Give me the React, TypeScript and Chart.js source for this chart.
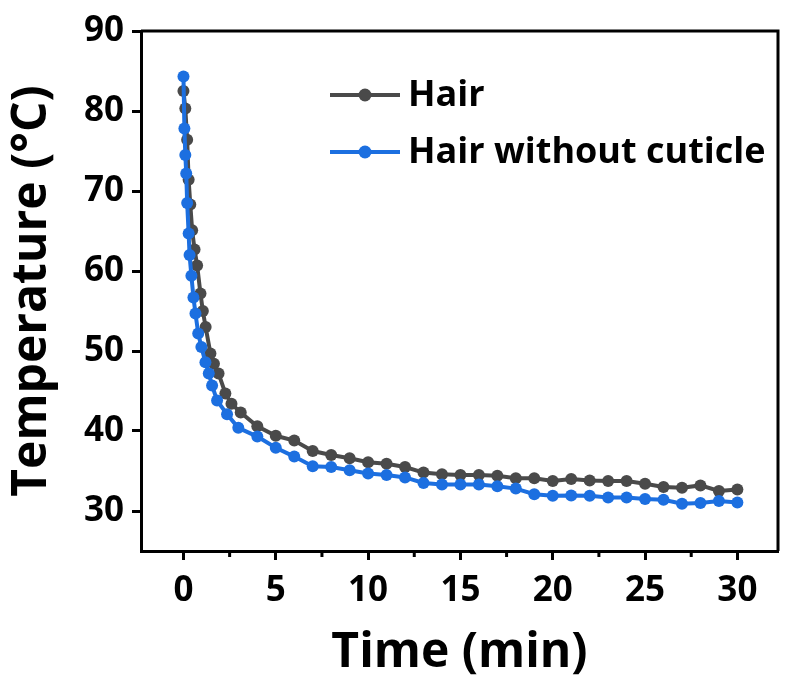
import React, { useEffect, useRef } from "react";
import { Chart, registerables } from "chart.js";

Chart.register(...registerables);

// ---- data ----
const seriesNames = ["Hair", "Hair without cuticle"];
const seriesColors = ["#4a4a4a", "#1c6fe0"];

const hairTime = [
  0, 0.1, 0.2, 0.28, 0.37, 0.47, 0.6, 0.74, 0.92, 1.05, 1.2, 1.46, 1.65, 1.9, 2.27, 2.6, 3.1,
  4, 5, 6, 7, 8, 9, 10, 11, 12, 13, 14, 15, 16, 17, 18, 19, 20, 21, 22, 23, 24, 25, 26, 27, 28, 29, 30,
];
const hairTemp = [
  82.5, 80.3, 76.4, 71.4, 68.3, 65.1, 62.7, 60.7, 57.2, 55.0, 53.0, 49.7, 48.4, 47.2, 44.7, 43.4, 42.3,
  40.6, 39.4, 38.8, 37.5, 37.0, 36.6, 36.1, 35.9, 35.5, 34.8, 34.6, 34.5, 34.5, 34.4, 34.1, 34.1, 33.75,
  34.0, 33.8, 33.75, 33.75, 33.4, 33.0, 32.9, 33.2, 32.5, 32.7,
];

const noCuticleTime = [
  0, 0.05, 0.1, 0.15, 0.2, 0.28, 0.33, 0.43, 0.54, 0.65, 0.8, 0.97, 1.19, 1.37, 1.55, 1.82, 2.36, 2.97,
  4, 5, 6, 7, 8, 9, 10, 11, 12, 13, 14, 15, 16, 17, 18, 19, 20, 21, 22, 23, 24, 25, 26, 27, 28, 29, 30,
];
const noCuticleTemp = [
  84.3, 77.8, 74.5, 72.2, 68.5, 64.7, 62.0, 59.4, 56.7, 54.7, 52.2, 50.5, 48.6, 47.2, 45.7, 43.8, 42.1, 40.4,
  39.3, 37.9, 36.8, 35.6, 35.5, 35.1, 34.7, 34.5, 34.2, 33.5, 33.3, 33.3, 33.3, 33.1, 32.8, 32.1, 31.9,
  31.95, 31.9, 31.7, 31.7, 31.5, 31.4, 30.9, 31.0, 31.25, 31.05,
];

const xTicks = [0, 5, 10, 15, 20, 25, 30];
const xMinorTicks = [2.5, 7.5, 12.5, 17.5, 22.5, 27.5];
const yTicks = [30, 40, 50, 60, 70, 80, 90];
const xTitle = "Time (min)";
const yTitle = "Temperature (°C)";

const FONT = "'Open Sans', 'DejaVu Sans', sans-serif";

const framePlugin = {
  id: "frameAndLegend",
  afterDraw(chart: any) {
    const { ctx, chartArea, scales } = chart;
    ctx.save();
    // top & right frame lines
    ctx.strokeStyle = "#000";
    ctx.lineWidth = 3;
    ctx.beginPath();
    ctx.moveTo(chartArea.left, chartArea.top);
    ctx.lineTo(chartArea.right, chartArea.top);
    ctx.lineTo(chartArea.right, chartArea.bottom);
    ctx.stroke();
    // minor x ticks
    for (const v of xMinorTicks) {
      const px = scales.x.getPixelForValue(v);
      ctx.beginPath();
      ctx.moveTo(px, chartArea.bottom);
      ctx.lineTo(px, chartArea.bottom + 6);
      ctx.stroke();
    }
    // legend
    const order = [0, 1];
    const lx0 = 330;
    const lx1 = 400;
    const ly = [95, 152];
    ctx.font = `bold 36px ${FONT}`;
    ctx.textBaseline = "middle";
    ctx.textAlign = "left";
    order.forEach((i, k) => {
      const y = ly[k];
      ctx.strokeStyle = seriesColors[i];
      ctx.fillStyle = seriesColors[i];
      ctx.lineWidth = 4;
      ctx.beginPath();
      ctx.moveTo(lx0, y);
      ctx.lineTo(lx1, y);
      ctx.stroke();
      ctx.beginPath();
      ctx.arc((lx0 + lx1) / 2, y, 6.5, 0, Math.PI * 2);
      ctx.fill();
      ctx.fillStyle = "#000";
      ctx.fillText(seriesNames[i], 408, y + 1);
    });
    ctx.restore();
  },
};

export default function App() {
  const ref = useRef<HTMLCanvasElement | null>(null);

  useEffect(() => {
    if (!ref.current) return;
    const mk = (t: number[], v: number[]) => t.map((x, i) => ({ x, y: v[i] }));
    const chart = new Chart(ref.current, {
      type: "line",
      data: {
        datasets: [
          {
            label: seriesNames[1],
            data: mk(noCuticleTime, noCuticleTemp),
            borderColor: seriesColors[1],
            backgroundColor: seriesColors[1],
            borderWidth: 4,
            pointRadius: 6,
            pointBorderWidth: 0,
            tension: 0,
            order: 0,
          },
          {
            label: seriesNames[0],
            data: mk(hairTime, hairTemp),
            borderColor: seriesColors[0],
            backgroundColor: seriesColors[0],
            borderWidth: 4,
            pointRadius: 6,
            pointBorderWidth: 0,
            tension: 0,
            order: 1,
          },
        ],
      },
      options: {
        animation: false,
        responsive: true,
        maintainAspectRatio: false,
        layout: { padding: { top: 31, right: 7, left: 0, bottom: 0 } },
        plugins: { legend: { display: false }, tooltip: { enabled: false } },
        scales: {
          x: {
            type: "linear",
            min: -2.3,
            max: 32.2,
            afterBuildTicks: (s: any) => {
              s.ticks = xTicks.map((v) => ({ value: v }));
            },
            afterFit: (s: any) => {
              s.height = 133;
            },
            ticks: {
              color: "#000",
              font: { family: FONT, size: 35, weight: "bold" },
              padding: 10,
              maxRotation: 0,
              autoSkip: false,
            },
            grid: {
              drawOnChartArea: false,
              drawTicks: true,
              tickLength: 9,
              tickWidth: 3,
              tickColor: "#000",
            },
            border: { display: true, width: 3, color: "#000" },
            title: {
              display: true,
              text: xTitle,
              color: "#000",
              font: { family: FONT, size: 48, weight: "bold" },
              padding: { top: 0, bottom: 2 },
            },
          },
          y: {
            type: "linear",
            min: 25,
            max: 90,
            afterBuildTicks: (s: any) => {
              s.ticks = yTicks.map((v) => ({ value: v }));
            },
            afterFit: (s: any) => {
              s.width = 141;
            },
            ticks: {
              color: "#000",
              font: { family: FONT, size: 35, weight: "bold" },
              padding: 8,
              autoSkip: false,
            },
            grid: {
              drawOnChartArea: false,
              drawTicks: true,
              tickLength: 9,
              tickWidth: 3,
              tickColor: "#000",
            },
            border: { display: true, width: 3, color: "#000" },
            title: {
              display: true,
              text: yTitle,
              color: "#000",
              font: { family: FONT, size: 48, weight: "bold" },
              padding: { top: 4, bottom: 0 },
            },
          },
        },
      },
      plugins: [framePlugin],
    } as any);
    return () => chart.destroy();
  }, []);

  return (
    <div style={{ position: "absolute", left: 0, top: 0, width: 785, height: 684, background: "#fff" }}>
      <canvas ref={ref} />
    </div>
  );
}
